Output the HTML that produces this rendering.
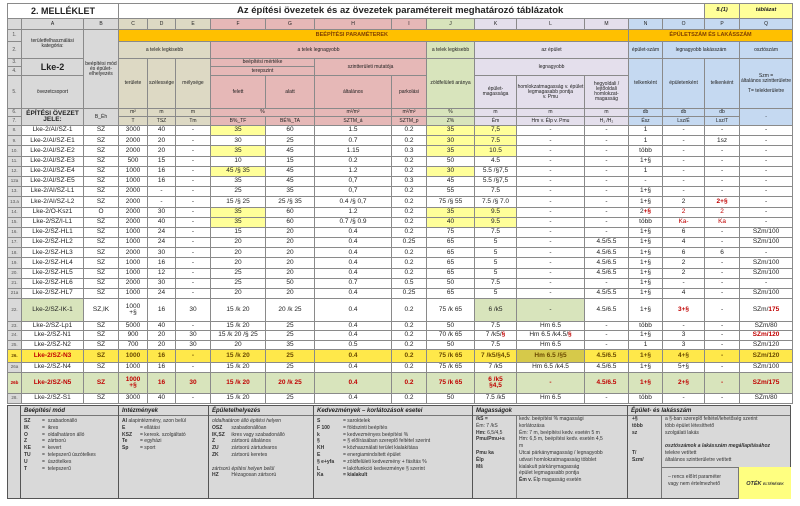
<!DOCTYPE html>
<html><head><meta charset="utf-8">
<style>
*{margin:0;padding:0;box-sizing:border-box}
body{width:800px;height:506px;background:#fff;font-family:"Liberation Sans",sans-serif;position:relative;overflow:hidden}
table{position:absolute;left:7px;top:3px;border-collapse:collapse;table-layout:fixed;width:784px}
td{border:1px solid #8a8a8a;text-align:center;vertical-align:middle;font-size:6.5px;line-height:1;overflow:hidden;white-space:nowrap;color:#222}
.h td{font-size:5px;white-space:normal}
.g{background:#d9d9d9}.t{background:#ddd9c4}.p{background:#e6b8b7}.gr{background:#d8e4bc}.l{background:#e4dfec}.b{background:#c5d9f1}.o{background:#ffc000;font-weight:bold;font-size:5.5px!important;color:#7f3f00}
.y{background:#ffff99}.r{color:#c00000;font-weight:bold}
.rn{background:#d9d9d9;font-size:4.5px;color:#555}
.row26 td{background:#ffe84a;font-weight:bold;color:#6b4a00}
.row26b td{background:#d8e4bc;font-weight:bold;color:#c00000}
.leg{position:absolute;top:405px;height:94px;background:#d9d9d9;border:1px solid #555;font-size:5px;line-height:6.8px;color:#333;padding:1px 3px}
.leg b.hd{font-style:italic;display:block;border-bottom:1px solid #777;font-size:6px;margin:0 -3px 2px;padding:0 3px;line-height:8px;color:#222}
.k{display:inline-block;width:18px;font-weight:bold}
</style></head><body>
<table>
<colgroup><col style="width:14px"><col style="width:62px"><col style="width:35px"><col style="width:29px"><col style="width:28px"><col style="width:35px"><col style="width:55px"><col style="width:49px"><col style="width:77px"><col style="width:35px"><col style="width:48px"><col style="width:42px"><col style="width:68px"><col style="width:44px"><col style="width:34px"><col style="width:42px"><col style="width:35px"><col style="width:53px"></colgroup>
<tr style="height:15px"><td colspan="3" style="font-size:9px;font-weight:bold">2. MELLÉKLET</td><td colspan="13" style="font-size:9.5px;font-weight:bold;text-align:left;padding-left:118px">Az építési övezetek és az övezetek paramétereit meghatározó táblázatok</td><td style="background:#ffff99;font-size:5.5px;font-weight:bold;font-style:italic">8.(1)</td><td style="background:#ffff99;font-size:5.5px;font-weight:bold;font-style:italic">táblázat</td></tr>
<tr class="h" style="height:11px"><td class="g"></td><td class="g">A</td><td class="g">B</td><td class="t">C</td><td class="t">D</td><td class="t">E</td><td class="p">F</td><td class="p">G</td><td class="p">H</td><td class="p">I</td><td class="gr">J</td><td class="l">K</td><td class="l">L</td><td class="l">M</td><td class="b">N</td><td class="b">O</td><td class="b">P</td><td class="b">Q</td></tr>
<tr class="h" style="height:12px"><td class="rn">1.</td><td class="g" rowspan="2">területfelhasználási kategória:</td><td class="g" rowspan="5">beépítési mód és épület-elhelyezés</td><td class="o" colspan="11" style="text-align:right;padding-right:240px">BEÉPÍTÉSI PARAMÉTEREK</td><td class="o" colspan="4">ÉPÜLETSZÁM ÉS LAKÁSSZÁM</td></tr>
<tr class="h" style="height:17px"><td class="rn">2.</td><td class="t" colspan="3">a telek legkisebb</td><td class="p" colspan="4">a telek legnagyobb</td><td class="gr">a telek legkisebb</td><td class="l" colspan="3">az épület</td><td class="b">épület-szám</td><td class="b" colspan="2">legnagyobb lakásszám</td><td class="b">osztószám</td></tr>
<tr class="h" style="height:8px"><td class="rn">3.</td><td class="g" rowspan="2" style="font-size:9px;font-weight:bold">Lke-2</td><td class="t" rowspan="3">területe</td><td class="t" rowspan="3">szélessége</td><td class="t" rowspan="3">mélysége</td><td class="p" colspan="2">beépítési mértéke</td><td class="p" colspan="2" rowspan="2">szintterületi mutatója</td><td class="gr" rowspan="3">zöldfelületi aránya</td><td class="l" colspan="3" rowspan="2">legnagyobb</td><td class="b" rowspan="3">telkenként</td><td class="b" rowspan="3">épületenként</td><td class="b" rowspan="3">telkenként</td><td class="b" rowspan="3">Szm =<br>általános szintterületre<br><br>T= telekterületre</td></tr>
<tr class="h" style="height:9px"><td class="rn">4.</td><td class="p" colspan="2">terepszint</td></tr>
<tr class="h" style="height:33px"><td class="rn">5.</td><td class="g">övezetcsoport</td><td class="p">felett</td><td class="p">alatt</td><td class="p">általános</td><td class="p">parkolási</td><td class="l">épület-magassága</td><td class="l">homlokzatmagasság v. épület legmagasabb pontja<br>v. Pmu</td><td class="l">hegyoldali / lejtőoldali homlokzat-magasság</td></tr>
<tr class="h" style="height:8px"><td class="rn">6.</td><td class="g" rowspan="2" style="font-size:6.5px;font-weight:bold">ÉPÍTÉSI ÖVEZET JELE:</td><td class="g" rowspan="2">B_Éh</td><td class="t">m²</td><td class="t">m</td><td class="t">m</td><td class="p" colspan="2">%</td><td class="p">m²/m²</td><td class="p">m²/m²</td><td class="gr">%</td><td class="l">m</td><td class="l">m</td><td class="l">m</td><td class="b">db</td><td class="b">db</td><td class="b">db</td><td class="b" rowspan="2">-</td></tr>
<tr class="h" style="height:9px"><td class="rn">7.</td><td class="t">T</td><td class="t">TSZ</td><td class="t">Tm</td><td class="p">B%_TF</td><td class="p">BÉ%_TA</td><td class="p">SZTM_á</td><td class="p">SZTM_p</td><td class="gr">Z%</td><td class="l">Ém</td><td class="l">Hm v. Élp v. Pmu</td><td class="l">H₁ /H₂</td><td class="b">Ész</td><td class="b">Lsz/É</td><td class="b">Lsz/T</td></tr>

<tr style="height:10.2px"><td class="rn">8.</td><td>Lke-2/AI/SZ-1</td><td>SZ</td><td>3000</td><td>40</td><td>-</td><td class="y">35</td><td>60</td><td>1.5</td><td>0.2</td><td class="y">35</td><td class="y">7,5</td><td>-</td><td>-</td><td>1</td><td>-</td><td>-</td><td>-</td></tr>
<tr style="height:10.2px"><td class="rn">9.</td><td>Lke-2/AI/SZ-E1</td><td>SZ</td><td>2000</td><td>20</td><td>-</td><td>30</td><td>25</td><td>0.7</td><td>0.2</td><td class="y">30</td><td class="y">7.5</td><td>-</td><td>-</td><td>1</td><td>-</td><td>1sz</td><td>-</td></tr>
<tr style="height:10.2px"><td class="rn">10.</td><td>Lke-2/AI/SZ-E2</td><td>SZ</td><td>2000</td><td>20</td><td>-</td><td class="y">35</td><td>45</td><td>1.15</td><td>0.3</td><td class="y">35</td><td class="y">10.5</td><td>-</td><td>-</td><td>több</td><td>-</td><td>-</td><td>-</td></tr>
<tr style="height:10.2px"><td class="rn">11.</td><td>Lke-2/AI/SZ-E3</td><td>SZ</td><td>500</td><td>15</td><td>-</td><td>10</td><td>15</td><td>0.2</td><td>0.2</td><td>50</td><td>4.5</td><td>-</td><td>-</td><td>1+§</td><td>-</td><td>-</td><td>-</td></tr>
<tr style="height:10.2px"><td class="rn">12.</td><td>Lke-2/AI/SZ-E4</td><td>SZ</td><td>1000</td><td>16</td><td>-</td><td class="y">45 /§ 35</td><td>45</td><td>1.2</td><td>0.2</td><td class="y">30</td><td>5.5 /§7,5</td><td>-</td><td>-</td><td>1</td><td>-</td><td>-</td><td>-</td></tr>
<tr style="height:10.2px"><td class="rn">12a</td><td>Lke-2/AI/SZ-E5</td><td>SZ</td><td>1000</td><td>16</td><td>-</td><td>35</td><td>45</td><td>0,7</td><td>0.3</td><td>45</td><td>5.5 /§7,5</td><td>-</td><td>-</td><td>-</td><td>-</td><td>-</td><td>-</td></tr>
<tr style="height:10.2px"><td class="rn">13.</td><td>Lke-2/AI/SZ-L1</td><td>SZ</td><td>2000</td><td>-</td><td>-</td><td>25</td><td>35</td><td>0,7</td><td>0.2</td><td>55</td><td>7.5</td><td>-</td><td>-</td><td>1+§</td><td>-</td><td>-</td><td>-</td></tr>
<tr style="height:10.2px"><td class="rn">13.a</td><td>Lke-2/AI/SZ-L2</td><td>SZ</td><td>2000</td><td>-</td><td>-</td><td>15 /§ 25</td><td>25 /§ 35</td><td>0.4 /§ 0,7</td><td>0.2</td><td>75 /§ 55</td><td>7.5 /§ 7.0</td><td>-</td><td>-</td><td>1+§</td><td>2</td><td class="r">2+§</td><td>-</td></tr>
<tr style="height:10.2px"><td class="rn">14.</td><td>Lke-2/O-Ksz1</td><td>O</td><td>2000</td><td>30</td><td>-</td><td class="y">35</td><td>60</td><td>1.2</td><td>0.2</td><td class="y">35</td><td class="y">9.5</td><td>-</td><td>-</td><td>2<span class="r">+§</span></td><td style="color:#c00000">2</td><td style="color:#c00000">2</td><td>-</td></tr>
<tr style="height:10.2px"><td class="rn">15.</td><td>Lke-2/SZ/I-L1</td><td>SZ</td><td>2000</td><td>40</td><td>-</td><td class="y">35</td><td>60</td><td>0.7 /§ 0.9</td><td>0.2</td><td class="y">40</td><td class="y">9.5</td><td>-</td><td>-</td><td>több</td><td style="color:#c00000">Ka-</td><td style="color:#c00000">Ka</td><td>-</td></tr>
<tr style="height:10.2px"><td class="rn">16.</td><td>Lke-2/SZ-HL1</td><td>SZ</td><td>1000</td><td>24</td><td>-</td><td>15</td><td>20</td><td>0.4</td><td>0.2</td><td>75</td><td>7.5</td><td>-</td><td>-</td><td>1+§</td><td>6</td><td>-</td><td>SZm/100</td></tr>
<tr style="height:10.2px"><td class="rn">17.</td><td>Lke-2/SZ-HL2</td><td>SZ</td><td>1000</td><td>24</td><td>-</td><td>20</td><td>20</td><td>0.4</td><td>0.25</td><td>65</td><td>5</td><td>-</td><td>4.5/5.5</td><td>1+§</td><td>4</td><td>-</td><td>SZm/100</td></tr>
<tr style="height:10.2px"><td class="rn">18.</td><td>Lke-2/SZ-HL3</td><td>SZ</td><td>2000</td><td>30</td><td>-</td><td>20</td><td>20</td><td>0.4</td><td>0.2</td><td>65</td><td>5</td><td>-</td><td>4.5/6.5</td><td>1+§</td><td>6</td><td>6</td><td>-</td></tr>
<tr style="height:10.2px"><td class="rn">19.</td><td>Lke-2/SZ-HL4</td><td>SZ</td><td>1000</td><td>16</td><td>-</td><td>20</td><td>20</td><td>0.4</td><td>0.2</td><td>65</td><td>5</td><td>-</td><td>4.5/6.5</td><td>1+§</td><td>2</td><td>-</td><td>SZm/100</td></tr>
<tr style="height:10.2px"><td class="rn">20.</td><td>Lke-2/SZ-HL5</td><td>SZ</td><td>1000</td><td>12</td><td>-</td><td>25</td><td>20</td><td>0.4</td><td>0.2</td><td>65</td><td>5</td><td>-</td><td>4.5/6.5</td><td>1+§</td><td>2</td><td>-</td><td>SZm/100</td></tr>
<tr style="height:10.2px"><td class="rn">21.</td><td>Lke-2/SZ-HL6</td><td>SZ</td><td>2000</td><td>30</td><td>-</td><td>25</td><td>50</td><td>0.7</td><td>0.5</td><td>50</td><td>7.5</td><td>-</td><td>-</td><td>1+§</td><td>-</td><td>-</td><td>-</td></tr>
<tr style="height:10.2px"><td class="rn">21a</td><td>Lke-2/SZ-HL7</td><td>SZ</td><td>1000</td><td>24</td><td>-</td><td>20</td><td>20</td><td>0.4</td><td>0.25</td><td>65</td><td>5</td><td>-</td><td>4.5/5.5</td><td>1+§</td><td>4</td><td>-</td><td>SZm/100</td></tr>
<tr style="height:23px"><td class="rn">22.</td><td class="gr">Lke-2/SZ-IK-1</td><td>SZ,IK</td><td>1000<br>+§</td><td>16</td><td>30</td><td>15 /k 20</td><td>20 /k 25</td><td>0.4</td><td>0.2</td><td>75 /k 65</td><td class="gr">6 /k5</td><td class="gr">-</td><td>4.5/6.5</td><td>1+§</td><td class="r">3+§</td><td>-</td><td>SZm/<span class="r">175</span></td></tr>
<tr style="height:9.3px"><td class="rn">23.</td><td>Lke-2/SZ-Lp1</td><td>SZ</td><td>5000</td><td>40</td><td>-</td><td>15 /k 20</td><td>25</td><td>0.4</td><td>0.2</td><td>50</td><td>7.5</td><td>Hm 6.5</td><td>-</td><td>több</td><td>-</td><td>-</td><td>SZm/80</td></tr>
<tr style="height:9.3px"><td class="rn">24.</td><td>Lke-2/SZ-N1</td><td>SZ</td><td>900</td><td>20</td><td>30</td><td>15 /k 20 /§ 25</td><td>25</td><td>0.4</td><td>0.2</td><td>70 /k 65</td><td>7 /k5/<span class="r">§</span></td><td>Hm 6.5 /k4.5/<span class="r">§</span></td><td>-</td><td>1+§</td><td>3</td><td>-</td><td class="r">SZm/120</td></tr>
<tr style="height:9.4px"><td class="rn">25.</td><td>Lke-2/SZ-N2</td><td>SZ</td><td>700</td><td>20</td><td>30</td><td>20</td><td>35</td><td>0.5</td><td>0.2</td><td>50</td><td>7.5</td><td>Hm 6.5</td><td>-</td><td>1</td><td>3</td><td>-</td><td>SZm/120</td></tr>
<tr class="row26" style="height:13px"><td class="rn">26.</td><td style="color:#c00000">Lke-2/SZ-N3</td><td>SZ</td><td>1000</td><td>16</td><td>-</td><td>15 /k 20</td><td>25</td><td>0.4</td><td>0.2</td><td>75 /k 65</td><td>7 /k5/§4,5</td><td style="background:#d6c94a">Hm 6.5 /§5</td><td>4.5/6.5</td><td>1+§</td><td>4+§</td><td>-</td><td>SZm/120</td></tr>
<tr style="height:10px"><td class="rn">26a</td><td>Lke-2/SZ-N4</td><td>SZ</td><td>1000</td><td>16</td><td>-</td><td>15 /k 20</td><td>25</td><td>0.4</td><td>0.2</td><td>75 /k 65</td><td>7 /k5</td><td>Hm 6.5 /k4.5</td><td>4.5/6.5</td><td>1+§</td><td>5+§</td><td>-</td><td>SZm/100</td></tr>
<tr class="row26b" style="height:21px"><td class="rn">26b</td><td>Lke-2/SZ-N5</td><td>SZ</td><td>1000<br>+§</td><td>16</td><td>30</td><td>15 /k 20</td><td>20 /k 25</td><td>0.4</td><td>0.2</td><td>75 /k 65</td><td>6 /k5<br>§4,5</td><td>-</td><td>4.5/6.5</td><td>1+§</td><td>2+§</td><td>-</td><td>SZm/175</td></tr>
<tr style="height:10px"><td class="rn">28.</td><td>Lke-2/SZ-S1</td><td>SZ</td><td>3000</td><td>40</td><td>-</td><td>15 /k 20</td><td>25</td><td>0.4</td><td>0.2</td><td>50</td><td>7.5 /k5</td><td>Hm 6.5</td><td>-</td><td>több</td><td>-</td><td>-</td><td>SZm/80</td></tr>
</table>

<div class="leg" style="left:7px;width:14px;padding:0"></div>
<div class="leg" style="left:20px;width:99px"><b class="hd">Beépítési mód</b>
<span class="k">SZ</span>= &nbsp;szabadonálló<br><span class="k">IK</span>= &nbsp;ikres<br><span class="k">O</span>= &nbsp;oldalhatáron álló<br><span class="k">Z</span>= &nbsp;zártsorú<br><span class="k">KE</span>= &nbsp;kevert<br><span class="k">TU</span>= &nbsp;telepszerű úszótelkes<br><span class="k">U</span>= &nbsp;úszótelkes<br><span class="k">T</span>= &nbsp;telepszerű</div>
<div class="leg" style="left:118px;width:91px"><b class="hd">Intézmények</b>
<b>AI</b> alapintézmény, azon belül<br><span class="k">E</span>= ellátási<br><span class="k">KSZ</span>= keresk. szolgáltató<br><span class="k">Te</span>= egyházi<br><span class="k">Sp</span>= sport</div>
<div class="leg" style="left:208px;width:106px"><b class="hd">Épületelhelyezés</b>
<i>oldalhatáron álló építési helyen</i><br><span class="k">OSZ</span> szabadonállóan<br><span class="k">IK,SZ</span> ikres vagy szabadonálló<br><span class="k">Z</span> zártsorú általános<br><span class="k">ZU</span> zártsorú zártudvaros<br><span class="k">ZK</span> zártsorú keretes<br><br><i>zártsorú építési helyen belül</i><br><span class="k">HZ</span> Hézagosan zártsorú</div>
<div class="leg" style="left:313px;width:160px"><b class="hd">Kedvezmények – korlátozások esetei</b>
<span class="k" style="width:26px">S</span>= saroktelek<br><span class="k" style="width:26px">F 100</span>= földszinti beépítés<br><span class="k" style="width:26px">k</span>= kedvezményes beépítési %<br><span class="k" style="width:26px">§</span>= § előírásában szereplő feltétel szerint<br><span class="k" style="width:26px">KH</span>= közhasználati terület kialakítása<br><span class="k" style="width:26px">E</span>= energiamindsített épület<br><span class="k" style="width:26px">§ e+yfa</span>= zöldfelületi kedvezmény + fásítás %<br><span class="k" style="width:26px">L</span>= lakófunkció kedvezménye § szerint<br><span class="k" style="width:26px">Ka</span><b>= kialakult</b></div>
<div class="leg" style="left:472px;width:156px"><b class="hd">Magasságok</b>
<div style="position:absolute;left:43px;top:9px;bottom:0;border-left:1px solid #777"></div>
<div style="position:absolute;left:3px;top:10px"><b>/kS =</b><br>Ém: 7 /kS<br><b>Hm:</b> 6,5/4,5<br><b>Pmu/Pmu+s</b><br><br><b>Pmu ka</b><br><b>Élp</b><br><b>Mŝ</b></div>
<div style="position:absolute;left:46px;top:10px">kedv. beépítési % magassági<br>korlátozása<br>Ém: 7 m, beépítési kedv. esetén 5 m<br>Hm: 6,5 m, beépítési kedv. esetén 4,5<br>m<br>Utcai párkánymagasság / legnagyobb<br>udvari homlokzatmagasság többlet<br>kialakult párkánymagasság<br>épület legmagasabb pontja<br><b>Ém v.</b> Élp magasság esetén</div></div>
<div class="leg" style="left:627px;width:164px"><b class="hd">Épület- és lakásszám</b>
<div style="position:absolute;left:33px;top:9px;bottom:0;border-left:1px solid #777"></div>
<div style="position:absolute;left:4px;top:10px"><b>+§<br>több<br>sz<br><br><br>T/<br>Szm/</b></div>
<div style="position:absolute;left:37px;top:10px">a §-ban szereplő feltétel/lehetőség szerint<br>több épület létesíthető<br>szolgálati lakás<br><br><b><i>osztószámok a lakásszám megállapításához</i></b><br>telekre vetített<br>általános szintterületre vetített</div>
<div style="position:absolute;left:33px;right:-1px;top:61px;bottom:-1px;border-top:1px solid #777"></div>
<div style="position:absolute;left:40px;top:68px">– rencs előírt paraméter<br>vagy nem értelmezhető</div>
<div style="position:absolute;left:110px;right:-1px;top:61px;bottom:-1px;background:#ffff80;border-left:1px solid #777;font-size:5.5px;font-weight:bold;font-style:italic;text-align:center;padding-top:14px;color:#333">OTÉK <span style="font-size:3.5px">ELTÉRÉSEK</span></div></div>
</body></html>
